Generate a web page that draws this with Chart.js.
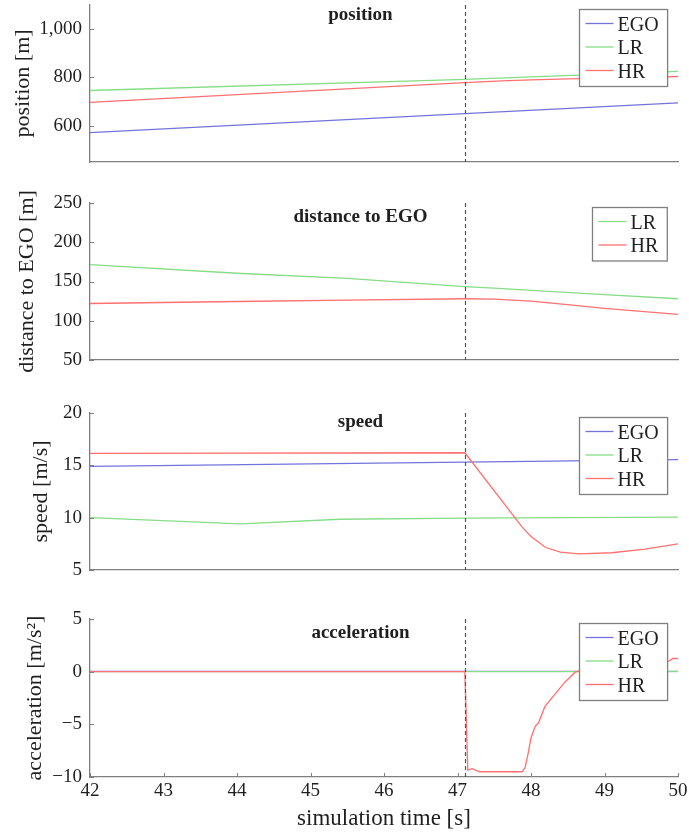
<!DOCTYPE html>
<html>
<head>
<meta charset="utf-8">
<script src="https://cdn.jsdelivr.net/npm/chart.js@4.4.0/dist/chart.umd.min.js"></script>
<style>
    html, body { margin: 0; padding: 0; background: #fff; }
    body { width: 689px; height: 839px; position: relative; overflow: hidden; }
</style>
</head>
<body>
<script>
// shared time axis
const timeRange = [42, 50];
const timeTicks = [42, 43, 44, 45, 46, 47, 48, 49, 50];
const eventTime = 47.1;

// position [m]
const posTime = [42, 47.1, 50];
const posEgo = [572, 650, 695];
const posLR = [746, 792, 825];
const posHRTime = [42, 47.1, 47.6, 48, 48.5, 49, 50];
const posHR = [697, 779, 786, 790, 794, 797, 804];
const posTicks = [600, 800, 1000];

// distance to EGO [m]
const distTime = [42, 44, 45.5, 47.1, 47.5, 48, 48.6, 49, 50];
const distLR = [171.5, 160.5, 154, 143.5, 141.5, 138.7, 135.5, 133.4, 128];
const distHR = [122, 124.5, 126.3, 128, 127.6, 125, 119.5, 115.8, 108];
const distTicks = [50, 100, 150, 200, 250];

// speed [m/s]
const speedEgoTime = [42, 47.1, 50];
const speedEgo = [14.9, 15.3, 15.55];
const speedLRTime = [42, 44.05, 45.4, 47.1, 50];
const speedLR = [10.0, 9.4, 9.85, 9.95, 10.05];
const speedHRTime = [42, 47.1, 47.88, 48.0, 48.2, 48.4, 48.65, 49.1, 49.55, 50];
const speedHR = [16.15, 16.2, 9.1, 8.2, 7.15, 6.7, 6.55, 6.65, 7.0, 7.5];
const speedTicks = [5, 10, 15, 20];

// acceleration [m/s^2]
const accTime = [42, 50];
const accEgo = [0.02, 0.02];
const accLR = [0, 0];
const accHRTime = [42, 47.1, 47.14, 47.2, 47.3, 47.88, 47.92, 47.96, 48.0, 48.05, 48.08, 48.1,
                   48.19, 48.33, 48.46, 48.6, 48.7, 49.0, 49.5, 49.85, 49.93, 50];
const accHR = [0, 0, -9.35, -9.2, -9.5, -9.5, -9.1, -7.8, -6.3, -5.3, -5.0, -4.9,
               -3.3, -2.1, -1.0, -0.05, 0.15, 0.4, 0.65, 0.9, 1.25, 1.25];
const accTicks = [-10, -5, 0, 5];

const FONT = '"Liberation Serif", "Times New Roman", serif';
const TEXT = '#1f1f1f';
const AXIS = '#7f7f7f';
const COLORS = { EGO: '#7373dc', LR: '#86dd86', HR: '#ff7070' };

function zip(xs, ys) {
    return xs.map((x, i) => ({ x: x, y: ys[i] }));
}

function series(label, xs, ys, order) {
    return {
        label: label,
        data: zip(xs, ys),
        borderColor: COLORS[label],
        borderWidth: 1.3,
        pointRadius: 0,
        tension: 0,
        order: order
    };
}

function fmt(v) {
    return v < 0 ? '\u2212' + Math.abs(v) : v.toLocaleString('en-US');
}

// ticks drawn inward, dashed event line, panel title and boxed legend
const decoPlugin = {
    id: 'deco',
    afterDatasetsDraw(chart, args, opts) {
        const { ctx, chartArea: a } = chart;
        const x = chart.scales.x, y = chart.scales.y;
        ctx.save();
        ctx.strokeStyle = AXIS;
        ctx.lineWidth = 1;
        y.ticks.forEach(t => {
            const py = Math.round(y.getPixelForValue(t.value)) + 0.5;
            ctx.beginPath(); ctx.moveTo(a.left, py); ctx.lineTo(a.left + 4, py); ctx.stroke();
        });
        if (opts.xTicks) {
            x.ticks.forEach(t => {
                const px = Math.round(x.getPixelForValue(t.value)) + 0.5;
                ctx.beginPath(); ctx.moveTo(px, a.bottom); ctx.lineTo(px, a.bottom - 4); ctx.stroke();
            });
        }

        // event marker
        const ex = Math.round(x.getPixelForValue(eventTime)) + 0.5;
        ctx.strokeStyle = '#555';
        ctx.lineWidth = 1.2;
        ctx.setLineDash([4, 3]);
        ctx.beginPath(); ctx.moveTo(ex, a.top); ctx.lineTo(ex, a.bottom); ctx.stroke();
        ctx.setLineDash([]);

        // title
        ctx.fillStyle = TEXT;
        ctx.font = 'bold 19px ' + FONT;
        ctx.textAlign = 'center';
        ctx.textBaseline = 'alphabetic';
        ctx.fillText(opts.title, a.left + 0.46 * (a.right - a.left), a.top + opts.titleDy);

        // legend
        const sets = chart.data.datasets;
        ctx.font = '20px ' + FONT;
        const textW = Math.max(...sets.map(d => ctx.measureText(d.label).width));
        const boxW = 38 + textW + 9;
        const boxH = 6.5 + 23.5 * sets.length;
        const bx = Math.round(a.right - 11 - boxW) + 0.5;
        const by = Math.round(a.top + 4) + 0.5;
        ctx.fillStyle = '#fff';
        ctx.fillRect(bx, by, boxW, boxH);
        ctx.strokeStyle = AXIS;
        ctx.lineWidth = 1.3;
        ctx.strokeRect(bx, by, boxW, boxH);
        ctx.textAlign = 'left';
        sets.forEach((d, i) => {
            const base = by + 21 + 23.5 * i;
            ctx.strokeStyle = d.borderColor;
            ctx.lineWidth = 1.3;
            ctx.beginPath(); ctx.moveTo(bx + 6, base - 7); ctx.lineTo(bx + 34, base - 7); ctx.stroke();
            ctx.fillStyle = TEXT;
            ctx.fillText(d.label, bx + 38, base);
        });
        ctx.restore();
    }
};

const panels = [
    {
        top: 5, bottom: 162, title: 'position', titleDy: 15,
        yTitle: 'position [m]', yTitlePad: 10, min: 450, max: 1100, ticks: posTicks,
        datasets: [
            series('EGO', posTime, posEgo, 2),
            series('LR', posTime, posLR, 1),
            series('HR', posHRTime, posHR, 0)
        ]
    },
    {
        top: 203, bottom: 360, title: 'distance to EGO', titleDy: 18.5,
        yTitle: 'distance to EGO [m]', yTitlePad: 14, min: 50, max: 250, ticks: distTicks,
        datasets: [
            series('LR', distTime, distLR, 1),
            series('HR', distTime, distHR, 0)
        ]
    },
    {
        top: 413, bottom: 570, title: 'speed', titleDy: 13.5,
        yTitle: 'speed [m/s]', yTitlePad: 28, min: 5, max: 20, ticks: speedTicks,
        datasets: [
            series('EGO', speedEgoTime, speedEgo, 2),
            series('LR', speedLRTime, speedLR, 1),
            series('HR', speedHRTime, speedHR, 0)
        ]
    },
    {
        top: 619, bottom: 777, title: 'acceleration', titleDy: 19,
        yTitle: 'acceleration [m/s\u00B2]', yTitlePad: 22, min: -10, max: 5, ticks: accTicks,
        datasets: [
            series('EGO', accTime, accEgo, 2),
            series('LR', accTime, accLR, 1),
            series('HR', accHRTime, accHR, 0)
        ]
    }
];

panels.forEach((p, idx) => {
    const isLast = idx === panels.length - 1;
    const canvasTop = Math.max(0, p.top - 15);
    const padTop = p.top - canvasTop;
    const xH = isLast ? 839 - p.bottom : 12;
    const cv = document.createElement('canvas');
    cv.width = 689;
    cv.height = padTop + (p.bottom - p.top) + xH;
    cv.style.position = 'absolute';
    cv.style.left = '0px';
    cv.style.top = canvasTop + 'px';
    document.body.appendChild(cv);

    new Chart(cv, {
        type: 'line',
        data: { datasets: p.datasets },
        plugins: [decoPlugin],
        options: {
            responsive: false,
            animation: false,
            events: [],
            layout: { padding: { top: padTop, right: 11, left: 0, bottom: 0 } },
            plugins: {
                legend: { display: false },
                tooltip: { enabled: false },
                deco: { title: p.title, titleDy: p.titleDy, xTicks: isLast }
            },
            scales: {
                x: {
                    type: 'linear',
                    min: timeRange[0],
                    max: timeRange[1],
                    afterBuildTicks: s => { s.ticks = timeTicks.map(v => ({ value: v })); },
                    afterFit: s => { s.height = xH; s.paddingLeft = 0; s.paddingRight = 0; },
                    grid: { display: false, drawTicks: false },
                    border: { display: true, color: AXIS, width: 1.3 },
                    ticks: {
                        display: isLast, padding: 3, color: TEXT, autoSkip: false, maxRotation: 0,
                        font: { family: FONT, size: 19 }
                    },
                    title: {
                        display: isLast, text: 'simulation time [s]', color: TEXT,
                        font: { family: FONT, size: 23 }, padding: { top: 0, bottom: 6 }
                    }
                },
                y: {
                    type: 'linear',
                    min: p.min,
                    max: p.max,
                    afterBuildTicks: s => { s.ticks = p.ticks.map(v => ({ value: v })); },
                    afterFit: s => { s.width = 90; s.paddingTop = 0; s.paddingBottom = 0; },
                    grid: { display: false, drawTicks: false },
                    border: { display: true, color: AXIS, width: 1.3 },
                    ticks: {
                        padding: 8, color: TEXT, autoSkip: false,
                        font: { family: FONT, size: 19 },
                        callback: v => fmt(v)
                    },
                    title: {
                        display: true, text: p.yTitle, color: TEXT,
                        font: { family: FONT, size: 22 }, padding: { top: p.yTitlePad, bottom: 0 }
                    }
                }
            }
        }
    });
});
</script>
</body>
</html>
